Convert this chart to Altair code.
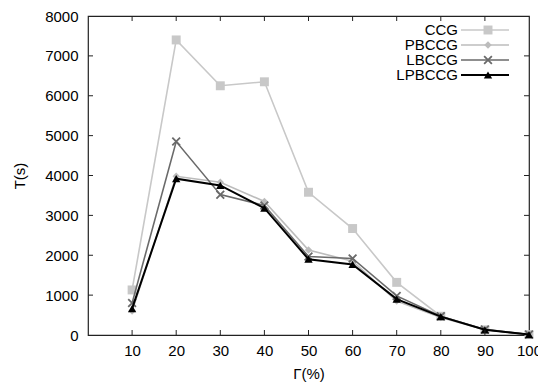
import altair as alt
import pandas as pd

gamma = [10, 20, 30, 40, 50, 60, 70, 80, 90, 100]
series = ["CCG", "PBCCG", "LBCCG", "LPBCCG"]
ccg = [1130, 7400, 6250, 6350, 3580, 2670, 1320, 470, 130, 10]
pbccg = [600, 3980, 3830, 3350, 2130, 1850, 850, 440, 130, 10]
lbccg = [800, 4850, 3520, 3250, 1970, 1920, 980, 470, 140, 10]
lpbccg = [660, 3920, 3750, 3180, 1900, 1770, 900, 460, 130, 10]
values = [ccg, pbccg, lbccg, lpbccg]

colors = ["#c8c8c8", "#bcbcbc", "#6a6a6a", "#000000"]
shapes = ["square", "diamond", "M-1,-1L1,1M1,-1L-1,1", "triangle-up"]
filled = [True, True, False, True]
widths = [1.6, 1.6, 1.6, 2.0]
sizes = [80, 55, 60, 70]

x_ticks = [10, 20, 30, 40, 50, 60, 70, 80, 90]
y_ticks = [1000, 2000, 3000, 4000, 5000, 6000, 7000]

W, H = 441, 319
FONT = "Liberation Sans"
FS = 15

xs = alt.Scale(domain=[0, 100], nice=False, zero=False)
ys = alt.Scale(domain=[0, 8000], nice=False)

x_axis = alt.Axis(values=gamma, ticks=False, grid=False, domain=False, format="d",
                  labelFlush=False, labelOverlap=False, labelBound=False,
                  labelPadding=8, title="Γ(%)", titlePadding=8,
                  labelFontSize=FS, titleFontSize=FS, titleFontWeight="normal",
                  labelFont=FONT, titleFont=FONT, labelColor="#000", titleColor="#000")
y_axis = alt.Axis(values=[0] + y_ticks + [8000], ticks=False, grid=False, domain=False,
                  format="d", labelPadding=10, title="T(s)", titlePadding=17,
                  labelFlush=False, labelOverlap=False,
                  labelFontSize=FS, titleFontSize=FS, titleFontWeight="normal",
                  labelFont=FONT, titleFont=FONT, labelColor="#000", titleColor="#000")
px = alt.X("g:Q", scale=xs, axis=x_axis)
py = alt.Y("v:Q", scale=ys, axis=y_axis)

layers = []
for i, s in enumerate(series):
    df = pd.DataFrame({"g": gamma, "v": values[i]})
    line = alt.Chart(df).mark_line(color=colors[i], strokeWidth=widths[i]).encode(x=px, y=py)
    if filled[i]:
        pt = alt.Chart(df).mark_point(shape=shapes[i], filled=True, fill=colors[i],
                                      color=colors[i], size=sizes[i], opacity=1).encode(x=px, y=py)
    else:
        pt = alt.Chart(df).mark_point(shape=shapes[i], filled=False, stroke=colors[i],
                                      strokeWidth=1.8, size=sizes[i], opacity=1).encode(x=px, y=py)
    layers += [line, pt]

# inward ticks (mirrored on all sides)
xt = pd.DataFrame({"g": x_ticks})
yt = pd.DataFrame({"v": y_ticks})
tick_color = "#222"
layers.append(alt.Chart(xt).mark_rule(color=tick_color, strokeWidth=1).encode(
    x=px, y=alt.value(H), y2=alt.value(H - 5)))
layers.append(alt.Chart(xt).mark_rule(color=tick_color, strokeWidth=1).encode(
    x=px, y=alt.value(0), y2=alt.value(5)))
layers.append(alt.Chart(yt).mark_rule(color=tick_color, strokeWidth=1).encode(
    y=py, x=alt.value(0), x2=alt.value(5)))
layers.append(alt.Chart(yt).mark_rule(color=tick_color, strokeWidth=1).encode(
    y=py, x=alt.value(W - 5), x2=alt.value(W)))

# legend (top right, labels left of samples)
leg_y = [14, 29, 44, 59]
for i, s in enumerate(series):
    d = pd.DataFrame({"s": [s]})
    layers.append(alt.Chart(d).mark_text(align="right", baseline="middle", font=FONT,
                                         fontSize=FS, color="#000").encode(
        y=alt.value(leg_y[i]), x=alt.value(370), text="s:N"))
    layers.append(alt.Chart(d).mark_rule(color=colors[i], strokeWidth=widths[i]).encode(
        y=alt.value(leg_y[i]), x=alt.value(373), x2=alt.value(421)))
    if filled[i]:
        layers.append(alt.Chart(d).mark_point(shape=shapes[i], filled=True, fill=colors[i],
                                              color=colors[i], size=sizes[i], opacity=1).encode(
            y=alt.value(leg_y[i]), x=alt.value(400)))
    else:
        layers.append(alt.Chart(d).mark_point(shape=shapes[i], filled=False, stroke=colors[i],
                                              strokeWidth=1.8, size=sizes[i], opacity=1).encode(
            y=alt.value(leg_y[i]), x=alt.value(400)))

chart = alt.layer(*layers).properties(
    width=W, height=H,
    autosize=alt.AutoSizeParams(type="none"),
    padding={"left": 88, "top": 16, "right": 9, "bottom": 48},
    background="white",
).configure_view(stroke="#222", strokeWidth=1.2)

chart.save("out.html", embed_options={"renderer": "svg", "actions": False})
